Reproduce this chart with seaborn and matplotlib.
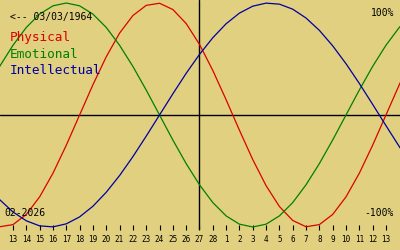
import matplotlib
matplotlib.use("Agg")
import matplotlib.pyplot as plt
import seaborn as sns
import pandas as pd

# Day offsets from 13 Feb 2026 (curves run a little past both edges)
day_offset = [-1, 0, 1, 2, 3, 4, 5, 6, 7, 8, 9, 10, 11, 12, 13, 14, 15,
              16, 17, 18, 19, 20, 21, 22, 23, 24, 25, 26, 27, 28, 29, 30]

physical = [-0.998, -0.979, -0.888, -0.731, -0.520, -0.270, 0.000, 0.270,
            0.520, 0.731, 0.888, 0.979, 0.998, 0.942, 0.817, 0.631, 0.398,
            0.136, -0.136, -0.398, -0.631, -0.817, -0.942, -0.998, -0.979,
            -0.888, -0.731, -0.520, -0.270, 0.000, 0.270, 0.520]
emotional = [0.434, 0.623, 0.782, 0.901, 0.975, 1.000, 0.975, 0.901,
             0.782, 0.623, 0.434, 0.223, 0.000, -0.223, -0.434, -0.623,
             -0.782, -0.901, -0.975, -1.000, -0.975, -0.901, -0.782, -0.623,
             -0.434, -0.223, 0.000, 0.223, 0.434, 0.623, 0.782, 0.901]
intellectual = [-0.756, -0.866, -0.945, -0.990, -0.999, -0.972, -0.910,
                -0.815, -0.690, -0.541, -0.372, -0.189, 0.000, 0.189, 0.372,
                0.541, 0.690, 0.815, 0.910, 0.972, 0.999, 0.990, 0.945,
                0.866, 0.756, 0.618, 0.458, 0.282, 0.095, -0.095, -0.282,
                -0.458]

tick_days = [0, 1, 2, 3, 4, 5, 6, 7, 8, 9, 10, 11, 12, 13, 14, 15, 16, 17,
             18, 19, 20, 21, 22, 23, 24, 25, 26, 27, 28]
tick_labels = ["13", "14", "15", "16", "17", "18", "19", "20", "21", "22",
               "23", "24", "25", "26", "27", "28", "1", "2", "3", "4", "5",
               "6", "7", "8", "9", "10", "11", "12", "13"]
today_offset = 14
birth_text = "<-- 03/03/1964"
month_text = "02-2026"
series_names = ["Physical", "Emotional", "Intellectual"]
series_colors = ["#dd0000", "#008000", "#0000a0"]

BG = "#e0d080"
sns.set_theme(style="white")
plt.rcParams["font.family"] = ["DejaVu Sans Mono"]

fig = plt.figure(figsize=(4, 2.5), dpi=100, facecolor=BG)
ax = fig.add_axes([0, 20 / 250, 1, 230 / 250])
ax.set_facecolor(BG)

df = pd.DataFrame({
    "day": day_offset * 3,
    "value": physical + emotional + intellectual,
    "series": [series_names[0]] * len(day_offset)
    + [series_names[1]] * len(day_offset)
    + [series_names[2]] * len(day_offset),
})
sns.lineplot(data=df, x="day", y="value", hue="series", hue_order=series_names,
             palette=series_colors, linewidth=0.9, legend=False, ax=ax,
             estimator=None, sort=False)

ax.axhline(0, color="black", linewidth=1.0, zorder=1)
ax.axvline(today_offset, color="black", linewidth=1.0, zorder=1)

ax.set_xlim(-13 / 13.32, 387 / 13.32)
ax.set_ylim(-1.027, 1.027)
for s in ax.spines.values():
    s.set_visible(False)
ax.set_xticks(tick_days)
ax.set_xticklabels(tick_labels)
ax.set_yticks([])
ax.set_xlabel("")
ax.set_ylabel("")
ax.tick_params(axis="x", direction="in", length=3.6, width=0.8, color="black",
               pad=3.5, labelsize=5.5, labelcolor="black", bottom=True)

fig.text(10 / 400, 1 - 17 / 250, birth_text, fontsize=7, color="black",
         va="center", ha="left")
for i, (name, col) in enumerate(zip(series_names, series_colors)):
    fig.text(10 / 400, 1 - (38 + 16 * i) / 250, name, fontsize=9.2, color=col,
             va="center", ha="left")
fig.text(394 / 400, 1 - 13 / 250, "100%", fontsize=7, color="black",
         va="center", ha="right")
fig.text(394 / 400, 1 - 213 / 250, "-100%", fontsize=7, color="black",
         va="center", ha="right")
fig.text(4 / 400, 1 - 213 / 250, month_text, fontsize=7, color="black",
         va="center", ha="left")

fig.savefig("out.png", dpi=100, facecolor=BG)
